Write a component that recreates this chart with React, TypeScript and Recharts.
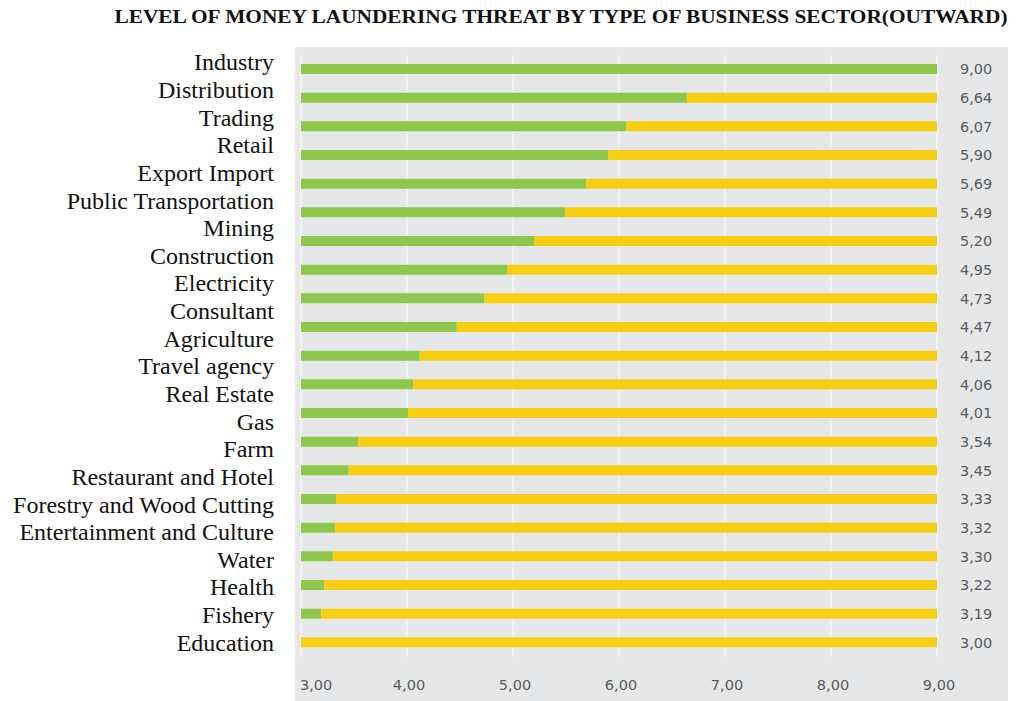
import React from 'react';
import { BarChart, Bar, XAxis, YAxis, CartesianGrid } from 'recharts';

const title = 'LEVEL OF MONEY LAUNDERING THREAT BY TYPE OF BUSINESS SECTOR(OUTWARD)';

const categories = [
  'Industry', 'Distribution', 'Trading', 'Retail', 'Export Import', 'Public Transportation',
  'Mining', 'Construction', 'Electricity', 'Consultant', 'Agriculture', 'Travel agency',
  'Real Estate', 'Gas', 'Farm', 'Restaurant and Hotel', 'Forestry and Wood Cutting',
  'Entertainment and Culture', 'Water', 'Health', 'Fishery', 'Education',
];

const values = [
  9.0, 6.64, 6.07, 5.9, 5.69, 5.49, 5.2, 4.95, 4.73, 4.47, 4.12, 4.06, 4.01, 3.54, 3.45,
  3.33, 3.32, 3.3, 3.22, 3.19, 3.0,
];

const xTicks = [3, 4, 5, 6, 7, 8, 9];
const maxValue = 9;

const labelRows = categories.map((name) => ({ name }));

const rows = values.map((v, i) => ({ id: i, value: v, green: v, yellow: maxValue - v }));

const fmt = (v: number) => v.toFixed(2).replace('.', ',');

const XTick = (props: any) => {
  const { x, y, payload } = props;
  const first = payload.value === xTicks[0];
  return (
    <text
      x={first ? x - 1 : x + 2}
      y={y}
      dy="0.71em"
      textAnchor={first ? 'start' : 'middle'}
      fontFamily="DejaVu Sans"
      fontSize={14.5}
      fill="#5a5a5a"
    >
      {fmt(payload.value)}
    </text>
  );
};

export default function App() {
  return (
    <div style={{ position: 'absolute', left: 0, top: 0, width: 1025, height: 701, background: '#fff' }}>
      <div style={{ position: 'absolute', left: 295, top: 47, width: 713, height: 654, background: '#e6e7e8' }} />
      <svg style={{ position: 'absolute', left: 0, top: 0 }} width={1025} height={40}>
        <text
          x={561}
          y={23}
          textAnchor="middle"
          fontFamily="Liberation Serif"
          fontWeight="bold"
          fontSize={18}
          fill="#111"
          textLength={893}
          lengthAdjust="spacingAndGlyphs"
        >
          {title}
        </text>
      </svg>
      <div style={{ position: 'absolute', left: 0, top: 0 }}>
        <BarChart
          width={1025}
          height={701}
          data={rows}
          layout="vertical"
          margin={{ top: 55, right: 0, bottom: 0, left: 301 }}
          barSize={10}
        >
          <CartesianGrid horizontal={false} stroke="#f4f4f4" strokeWidth={1.5} />
          <XAxis
            type="number"
            domain={[3, 9]}
            ticks={xTicks}
            allowDataOverflow
            axisLine={false}
            tickLine={false}
            tickSize={0}
            tickMargin={23}
            height={44}
            tick={<XTick />}
            interval={0}
          />
          <YAxis
            yAxisId="values"
            type="category"
            dataKey="id"
            orientation="right"
            width={88}
            interval={0}
            tickFormatter={(i: number) => fmt(values[i])}
            axisLine={false}
            tickLine={false}
            tickSize={0}
            tickMargin={23}
            tick={{ fontFamily: 'DejaVu Sans', fontSize: 14.5, fill: '#5a5a5a' }}
          />
          <Bar yAxisId="values" dataKey="green" stackId="s" fill="#8dc84d" isAnimationActive={false} />
          <Bar yAxisId="values" dataKey="yellow" stackId="s" fill="#f6cf12" isAnimationActive={false} />
        </BarChart>
      </div>
      <div style={{ position: 'absolute', left: 0, top: 0 }}>
        <BarChart
          width={310}
          height={701}
          data={labelRows}
          layout="vertical"
          margin={{ top: 48, right: 0, bottom: 45, left: 0 }}
        >
          <XAxis type="number" hide />
          <YAxis
            type="category"
            dataKey="name"
            width={301}
            interval={0}
            axisLine={false}
            tickLine={false}
            tickSize={0}
            tickMargin={27}
            tick={{ fontFamily: 'Liberation Serif', fontSize: 24, fill: '#111' }}
          />
          <Bar dataKey="blank" isAnimationActive={false} />
        </BarChart>
      </div>
    </div>
  );
}
